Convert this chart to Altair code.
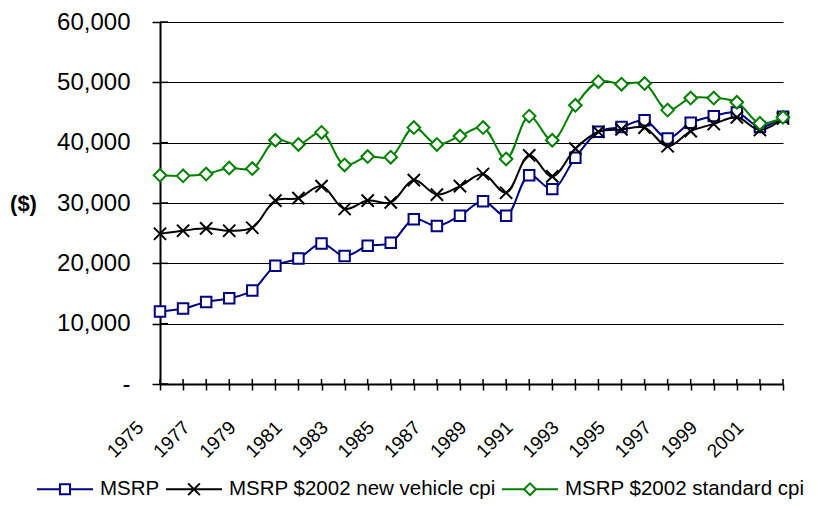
import altair as alt
import pandas as pd

years = list(range(1975, 2003))
msrp = [12000, 12500, 13600, 14200, 15500, 19600, 20800, 23300, 21200, 22900,
        23400, 27300, 26200, 27900, 30300, 27900, 34600, 32300, 37500, 41800,
        42600, 43700, 40700, 43300, 44400, 45000, 42600, 44300]
new_cpi = [24900, 25400, 25800, 25400, 25900, 30400, 30800, 32800, 29000, 30400,
           30100, 33800, 31400, 32800, 34800, 31700, 37900, 34400, 39000, 41800,
           42200, 42500, 39400, 41900, 43100, 44200, 42100, 44000]
std_cpi = [34600, 34500, 34800, 35800, 35700, 40400, 39700, 41700, 36300, 37700,
           37600, 42500, 39700, 41100, 42500, 37300, 44400, 40400, 46200, 50100,
           49700, 49800, 45400, 47400, 47400, 46700, 43200, 44200]
series_names = ["MSRP", "MSRP $2002 new vehicle cpi", "MSRP $2002 standard cpi"]
series_colors = ["#000080", "#000000", "#008000"]
y_ticks = [0, 10000, 20000, 30000, 40000, 50000, 60000]

rows = []
for name, vals in zip(series_names, [msrp, new_cpi, std_cpi]):
    for yr, v in zip(years, vals):
        rows.append({"year": yr, "value": v, "series": name})
df = pd.DataFrame(rows)

W, H = 623, 362
FONT = "Liberation Sans"

marker_paths = ["M-1,-1H1V1H-1Z", "M-1,-1L1,1M-1,1L1,-1", "M-1,0L0,-1L1,0L0,1Z"]
marker_sizes = [110, 150, 160]
marker_fill = ["white", "transparent", "white"]
legend_paths = [
    "M-1,0H-0.18M0.18,0H1M-0.18,-0.18H0.18V0.18H-0.18Z",
    "M-1,0H1M-0.21,-0.21L0.21,0.21M-0.21,0.21L0.21,-0.21",
    "M-1,0H-0.21L0,-0.21L0.21,0H1M-0.21,0L0,0.21L0.21,0",
]

x_axis = alt.Axis(
    values=years, format="d",
    labelExpr="datum.value % 2 == 1 ? datum.label : ''",
    labelAngle=-45, labelAlign="right", labelBaseline="middle",
    labelPadding=34, labelOffset=-20, labelFontSize=19,
    labelFont=FONT, labelColor="black",
    tickSize=6, tickColor="black", tickWidth=1.5,
    domainColor="black", domainWidth=2, grid=False, title=None,
    labelOverlap=False, labelFlush=False, labelBound=False,
)
y_axis = alt.Axis(
    values=y_ticks, format=",d",
    labelExpr="datum.value == 0 ? '-' : datum.label",
    labelFontSize=24, labelFont=FONT, labelColor="black", labelPadding=22,
    tickSize=8, tickColor="black", tickWidth=1.5,
    domainColor="black", domainWidth=2,
    grid=True, gridColor="black", gridWidth=1, gridOpacity=1,
    title="($)", titleAngle=0, titleX=-137, titleY=181,
    titleAlign="center", titleBaseline="middle",
    titleFont=FONT, titleFontSize=22, titleFontWeight="bold", titleColor="black",
    labelOverlap=False,
)
x_scale = alt.Scale(domain=[1975, 2002], nice=False, zero=False)
y_scale = alt.Scale(domain=[0, 60000], nice=False)


def X(field):
    return alt.X(field, scale=x_scale, axis=x_axis)


def Y(field):
    return alt.Y(field, scale=y_scale, axis=y_axis)


layers = []
for i, name in enumerate(series_names):
    base = alt.Chart(df).transform_filter(alt.datum.series == name)
    layers.append(
        base.mark_line(interpolate="catmull-rom", strokeWidth=2, color=series_colors[i])
        .encode(x=X("year:Q"), y=Y("value:Q"))
    )
    layers.append(
        base.mark_point(shape=marker_paths[i], size=marker_sizes[i], filled=False,
                        fill=marker_fill[i], stroke=series_colors[i], strokeWidth=2, opacity=1)
        .encode(x=X("year:Q"), y=Y("value:Q"))
    )

# inward halves of the tick marks (ticks cross the axes)
layers.append(
    alt.Chart(pd.DataFrame({"v": y_ticks})).mark_rule(color="black", strokeWidth=1.5)
    .encode(y=Y("v:Q"), x=alt.value(0), x2=alt.value(8))
)
layers.append(
    alt.Chart(pd.DataFrame({"year": years})).mark_rule(color="black", strokeWidth=1.5)
    .encode(x=X("year:Q"), y=alt.value(H - 5), y2=alt.value(H))
)

legend = alt.Legend(
    orient="none", legendX=-124, legendY=438, direction="horizontal", title=None,
    symbolSize=3136, symbolStrokeWidth=2, labelFont=FONT, labelFontSize=20.5,
    labelColor="black", labelOffset=6, columnPadding=2, padding=0, labelLimit=0,
)
layers.append(
    alt.Chart(df).mark_point(filled=False, strokeWidth=2, opacity=0)
    .encode(
        x=X("year:Q"), y=Y("value:Q"),
        shape=alt.Shape("series:N", scale=alt.Scale(domain=series_names, range=legend_paths), legend=legend),
        stroke=alt.Stroke("series:N", scale=alt.Scale(domain=series_names, range=series_colors), legend=legend),
    )
)

chart = alt.layer(*layers).properties(
    width=W, height=H,
    padding={"left": 152, "top": 14, "right": 37, "bottom": 116},
    autosize=alt.AutoSizeParams(type="none"),
    background="white",
).configure_view(strokeWidth=0)

chart.save("out.html", embed_options={"renderer": "svg", "actions": False})
